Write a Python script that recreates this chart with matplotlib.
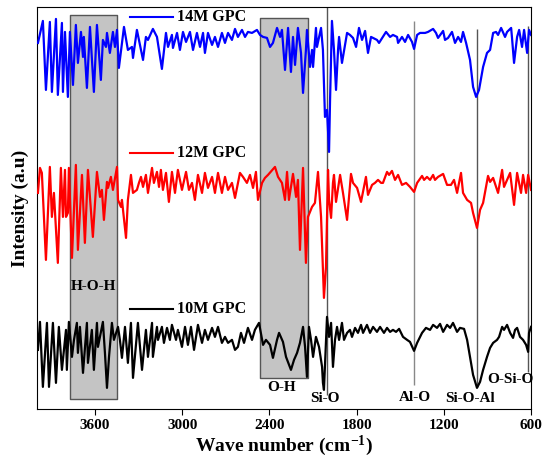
import numpy as np
import matplotlib.pyplot as plt

plt.rcParams['font.family'] = ['Liberation Serif', 'DejaVu Serif']
plt.rcParams['font.weight'] = 'bold'
plt.rcParams['mathtext.fontset'] = 'custom'
plt.rcParams['mathtext.rm'] = 'Liberation Serif:bold'
plt.rcParams['mathtext.bf'] = 'Liberation Serif:bold'
plt.rcParams['mathtext.default'] = 'rm'

# 14M GPC (blue)
wn_14 = [3993, 3959, 3938, 3911, 3897, 3869, 3856, 3828, 3821, 3807, 3787, 3773, 3752, 3732, 3718,
         3697, 3683, 3677, 3656, 3635, 3608, 3587, 3560, 3546, 3525, 3518, 3498, 3477, 3463, 3449,
         3436, 3401, 3374, 3346, 3339, 3312, 3291, 3270, 3250, 3236, 3202, 3174, 3140, 3112, 3098,
         3071, 3064, 3036, 3016, 2995, 2974, 2947, 2926, 2899, 2878, 2857, 2844, 2823, 2795, 2775,
         2754, 2727, 2706, 2685, 2658, 2637, 2617, 2589, 2568, 2548, 2520, 2486, 2465, 2444, 2417,
         2396, 2376, 2348, 2327, 2314, 2293, 2272, 2252, 2238, 2224, 2204, 2183, 2169, 2149, 2142,
         2121, 2107, 2100, 2080, 2073, 2045, 2032, 2018, 2004, 1990, 1983, 1970, 1956, 1942, 1928,
         1921, 1901, 1880, 1866, 1846, 1825, 1804, 1784, 1763, 1742, 1722, 1701, 1687, 1660, 1646,
         1598, 1570, 1550, 1522, 1515, 1488, 1467, 1446, 1419, 1405, 1384, 1364, 1329, 1309, 1274,
         1254, 1240, 1205, 1192, 1171, 1144, 1123, 1102, 1082, 1068, 1047, 1020, 999, 978, 958,
         930, 903, 882, 861, 841, 827, 806, 779, 765, 737, 731, 717, 696, 682, 662,
         648, 627, 614, 600]
int_14 = [419, 441, 372, 440, 370, 443, 367, 439, 370, 430, 365, 430, 377, 437, 399,
          430, 405, 425, 374, 435, 370, 437, 382, 422, 415, 429, 409, 430, 415, 432,
          394, 435, 412, 415, 404, 432, 417, 402, 425, 422, 433, 425, 393, 429, 415,
          427, 414, 429, 412, 430, 420, 430, 412, 429, 415, 429, 409, 429, 417, 425,
          415, 429, 419, 429, 422, 433, 425, 432, 425, 430, 429, 432, 427, 425, 424,
          415, 419, 434, 425, 432, 392, 434, 390, 425, 397, 434, 409, 369, 412, 432,
          395, 412, 395, 434, 415, 434, 412, 345, 352, 310, 362, 441, 412, 372, 412,
          425, 399, 417, 429, 427, 424, 415, 434, 422, 431, 409, 425, 424, 422, 419,
          430, 425, 427, 425, 419, 425, 420, 427, 420, 413, 427, 429, 429, 430, 433,
          429, 424, 431, 422, 424, 430, 419, 425, 420, 430, 419, 402, 375, 365, 372,
          395, 409, 412, 429, 430, 427, 434, 425, 430, 434, 424, 399, 425, 432, 415,
          432, 409, 432, 427]

# 12M GPC (red)
wn_12 = [3993, 3979, 3966, 3938, 3911, 3897, 3883, 3856, 3835, 3821, 3807, 3800, 3787, 3780, 3759,
         3732, 3718, 3690, 3670, 3649, 3615, 3587, 3566, 3553, 3539, 3518, 3511, 3491, 3477, 3449,
         3442, 3422, 3415, 3387, 3374, 3353, 3339, 3312, 3298, 3284, 3270, 3250, 3236, 3208, 3195,
         3174, 3160, 3147, 3133, 3112, 3092, 3071, 3050, 3030, 3002, 2974, 2954, 2933, 2913, 2892,
         2864, 2844, 2823, 2795, 2775, 2754, 2727, 2706, 2685, 2658, 2637, 2603, 2582, 2555, 2534,
         2513, 2493, 2479, 2451, 2431, 2410, 2362, 2341, 2314, 2293, 2279, 2266, 2238, 2217, 2204,
         2190, 2169, 2149, 2135, 2107, 2087, 2066, 2045, 2032, 2025, 2011, 1997, 1990, 1976, 1963,
         1956, 1942, 1914, 1894, 1866, 1839, 1825, 1797, 1770, 1736, 1722, 1694, 1674, 1653, 1632,
         1619, 1591, 1577, 1557, 1536, 1515, 1488, 1460, 1433, 1405, 1384, 1350, 1336, 1316, 1295,
         1274, 1261, 1240, 1205, 1178, 1151, 1130, 1109, 1082, 1068, 1040, 1013, 999, 972, 951,
         930, 896, 882, 861, 841, 827, 799, 786, 744, 717, 696, 669, 655, 634, 620,
         600]
int_12 = [269, 294, 289, 202, 295, 245, 269, 199, 294, 245, 292, 245, 249, 294, 204,
          297, 212, 287, 219, 292, 225, 290, 265, 272, 242, 280, 274, 285, 272, 295,
          262, 255, 262, 224, 262, 287, 269, 272, 279, 285, 275, 287, 269, 294, 279,
          290, 275, 292, 272, 289, 260, 290, 269, 292, 272, 290, 272, 279, 262, 287,
          269, 289, 274, 285, 269, 289, 269, 285, 272, 279, 264, 289, 285, 279, 287,
          274, 290, 262, 279, 284, 287, 295, 285, 279, 262, 290, 262, 288, 265, 282,
          212, 294, 199, 245, 255, 259, 290, 245, 192, 164, 195, 292, 262, 244, 279,
          287, 260, 287, 269, 242, 288, 279, 274, 260, 285, 267, 277, 279, 282, 279,
          279, 290, 287, 291, 282, 287, 277, 279, 275, 270, 279, 286, 282, 285, 282,
          287, 282, 285, 288, 277, 277, 282, 269, 289, 269, 262, 259, 249, 234, 252,
          259, 286, 280, 284, 275, 269, 292, 275, 289, 257, 289, 269, 287, 269, 287,
          272]

# 10M GPC (black)
wn_10 = [3993, 3979, 3959, 3931, 3917, 3890, 3869, 3849, 3828, 3800, 3794, 3780, 3759, 3745, 3725,
         3718, 3704, 3683, 3656, 3649, 3622, 3608, 3587, 3580, 3546, 3532, 3518, 3504, 3484, 3470,
         3442, 3429, 3415, 3394, 3374, 3353, 3339, 3305, 3277, 3250, 3236, 3208, 3202, 3174, 3167,
         3140, 3126, 3105, 3085, 3071, 3043, 3030, 3002, 2981, 2961, 2940, 2919, 2892, 2864, 2844,
         2823, 2795, 2775, 2754, 2727, 2706, 2685, 2658, 2637, 2617, 2596, 2575, 2548, 2520, 2500,
         2472, 2444, 2424, 2396, 2376, 2348, 2334, 2307, 2286, 2252, 2231, 2210, 2190, 2169, 2155,
         2142, 2128, 2114, 2100, 2080, 2059, 2038, 2032, 2025, 2004, 1990, 1976, 1963, 1949, 1935,
         1921, 1901, 1887, 1866, 1846, 1832, 1811, 1791, 1770, 1756, 1729, 1708, 1687, 1660, 1639,
         1612, 1591, 1570, 1550, 1529, 1508, 1481, 1453, 1433, 1405, 1384, 1350, 1323, 1295, 1274,
         1247, 1226, 1205, 1178, 1157, 1137, 1109, 1089, 1061, 1040, 1020, 999, 972, 951, 930,
         903, 882, 861, 834, 820, 799, 786, 765, 744, 724, 710, 696, 676, 655, 634,
         620, 614, 600]
int_10 = [112, 140, 75, 139, 75, 139, 79, 135, 92, 132, 92, 140, 105, 122, 139,
          109, 135, 89, 139, 99, 132, 92, 139, 115, 140, 109, 74, 105, 139, 122,
          135, 122, 104, 135, 99, 139, 84, 139, 92, 132, 105, 139, 105, 135, 122,
          135, 119, 134, 122, 137, 122, 132, 115, 135, 117, 135, 112, 137, 119, 132,
          122, 134, 125, 135, 119, 125, 119, 122, 112, 115, 129, 119, 134, 122, 132,
          139, 117, 122, 117, 104, 122, 129, 120, 105, 92, 102, 109, 119, 135, 115,
          85, 135, 122, 105, 125, 115, 95, 79, 72, 145, 125, 139, 95, 122, 135,
          122, 139, 122, 129, 132, 125, 134, 129, 137, 129, 137, 129, 135, 130, 135,
          129, 134, 130, 132, 130, 133, 125, 122, 120, 111, 119, 129, 134, 132, 137,
          134, 138, 130, 137, 134, 139, 130, 134, 133, 122, 105, 87, 74, 80, 92,
          105, 114, 119, 122, 125, 135, 132, 137, 129, 124, 132, 134, 125, 122, 117,
          110, 129, 135]

bands = ['Si-O', 'Al-O', 'Si-O-Al', 'O-Si-O']
band_wn = [2004, 1405, 972, 620]

fig = plt.figure(figsize=(5.43, 4.62), dpi=100)
ax = fig.add_axes([0.068, 0.115, 0.910, 0.870])

# shaded regions
ax.fill_between([3772, 3448], 63, 447, color='#c4c4c4', edgecolor='#555555', lw=1, zorder=1)
ax.fill_between([2462, 2138], 84, 444, color='#c4c4c4', edgecolor='#555555', lw=1, zorder=1)

# band marker lines
ax.vlines(band_wn[0], 67, 455, color='#555555', lw=1, zorder=1)
ax.vlines(band_wn[1], 77, 441, color='#888888', lw=1, zorder=1)
ax.vlines(band_wn[2], 75, 433, color='#555555', lw=1, zorder=1)
ax.vlines(band_wn[3], 90, 436, color='#555555', lw=1, zorder=1)

ax.plot(wn_14, int_14, color='#0000ff', lw=1.6, zorder=3)
ax.plot(wn_12, int_12, color='#ff0000', lw=1.6, zorder=3)
ax.plot(wn_10, int_10, color='black', lw=1.6, zorder=3)

# inline legend
for c, lab, yy in [('#0000ff', '14M GPC', 445), ('#ff0000', '12M GPC', 309), ('black', '10M GPC', 153)]:
    ax.plot([3360, 3064], [yy, yy], color=c, lw=1.5)
    ax.text(3036, yy, lab, fontsize=11.5, fontweight='bold', va='center', ha='left')

ax.text(3610, 175, 'H-O-H', fontsize=11, fontweight='bold', ha='center', va='center')
ax.text(2314, 74, 'O-H', fontsize=11, fontweight='bold', ha='center', va='center')
ax.text(2018, 63, 'Si-O', fontsize=11, fontweight='bold', ha='center', va='center')
ax.text(1398, 64, 'Al-O', fontsize=11, fontweight='bold', ha='center', va='center')
ax.text(1020, 63, 'Si-O-Al', fontsize=11, fontweight='bold', ha='center', va='center')
ax.text(745, 82, 'O-Si-O', fontsize=11, fontweight='bold', ha='center', va='center')

ax.set_xlim(4000, 600)
ax.set_ylim(53, 455)
ax.set_xticks([3600, 3000, 2400, 1800, 1200, 600])
ax.tick_params(axis='x', direction='out', labelsize=11, length=4)
ax.set_yticks([])
for lbl in ax.get_xticklabels():
    lbl.set_fontweight('bold')
ax.set_xlabel('Wave number (cm$^{-1}$)', fontsize=14, fontweight='bold', labelpad=1)
ax.set_ylabel('Intensity (a.u)', fontsize=14, fontweight='bold', labelpad=6)

plt.savefig('out.png', dpi=100)
